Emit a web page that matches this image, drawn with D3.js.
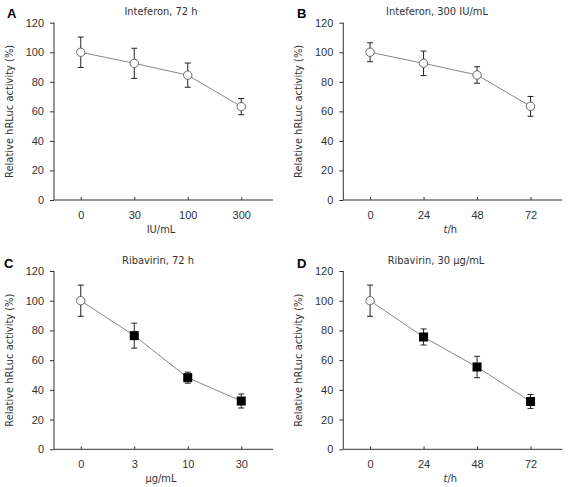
<!DOCTYPE html>
<html><head><meta charset="utf-8">
<script src="https://cdn.jsdelivr.net/npm/d3@7"></script>
<style>
body{margin:0;background:#fff;}
svg{display:block;font-family:"DejaVu Sans Condensed","DejaVu Sans",sans-serif;font-stretch:condensed;}
</style></head><body>
<svg id="chart" width="568" height="487"></svg>
<script>
// ---- data ----
const yTicks = [0, 20, 40, 60, 80, 100, 120];

const catsA = ["0", "30", "100", "300"];
const valsA = [100, 92.5, 84.5, 63.2];
const errA  = [10.3, 10.2, 8.2, 5.5];
const markA = ["circle", "circle", "circle", "circle"];

const catsB = ["0", "24", "48", "72"];
const valsB = [100, 92.5, 84.6, 63.4];
const errB  = [6.4, 8.3, 5.6, 6.7];
const markB = ["circle", "circle", "circle", "circle"];

const catsC = ["0", "3", "10", "30"];
const valsC = [100, 76.5, 48.2, 32.5];
const errC  = [10.5, 8.4, 3.7, 4.7];
const markC = ["circle", "square", "square", "square"];

const catsD = ["0", "24", "48", "72"];
const valsD = [100, 75.6, 55.4, 32.2];
const errD  = [10.5, 5.4, 7.2, 4.7];
const markD = ["circle", "square", "square", "square"];

const titles  = ["Inteferon, 72 h", "Inteferon, 300 IU/mL", "Ribavirin, 72 h", "Ribavirin, 30 \u03bcg/mL"];
const letters = ["A", "B", "C", "D"];
const xLabels = ["IU/mL", "t/h", "\u03bcg/mL", "t/h"];
const yLabel  = "Relative hRLuc activity (%)";

// ---- layout ----
const layouts = [
  {x0: 54,    y0: 200,   y1: 22.7, letterX: 7,   letterY: 18,  titleX: 161},
  {x0: 343.3, y0: 200,   y1: 22.7, letterX: 297, letterY: 18,  titleX: 437},
  {x0: 54,    y0: 449.3, y1: 271,  letterX: 4,   letterY: 268, titleX: 158},
  {x0: 343.3, y0: 449.3, y1: 271,  letterX: 297, letterY: 268, titleX: 436}
];
const panels = [
  {cats: catsA, vals: valsA, errs: errA, marks: markA},
  {cats: catsB, vals: valsB, errs: errB, marks: markB},
  {cats: catsC, vals: valsC, errs: errC, marks: markC},
  {cats: catsD, vals: valsD, errs: errD, marks: markD}
];

const svg = d3.select("#chart");
const axisColor = "#333";
const textColor = "#333";

panels.forEach((p, i) => {
  const L = layouts[i];
  const g = svg.append("g");
  const y = d3.scaleLinear().domain([0, 120]).range([L.y0, L.y1]);
  const x = d3.scalePoint().domain(p.cats).range([L.x0, L.x0 + 214]).padding(0.5);
  const axisEnd = L.x0 + 219;

  // y axis
  const ya = g.append("g").attr("transform", `translate(${L.x0},0)`)
    .call(d3.axisLeft(y).tickValues(yTicks).tickSize(4).tickPadding(6));
  ya.select(".domain").remove();
  ya.selectAll("line").attr("stroke", axisColor);
  ya.selectAll("text").attr("fill", textColor).style("font-size", "11px").style("font-family", "inherit");
  g.append("line").attr("x1", L.x0).attr("x2", L.x0).attr("y1", y(0)).attr("y2", y(120))
    .attr("stroke", axisColor).attr("stroke-width", 1);

  // x axis
  const xa = g.append("g").attr("transform", `translate(0,${L.y0})`)
    .call(d3.axisBottom(x).tickSizeInner(-3).tickSizeOuter(0).tickPadding(11));
  xa.select(".domain").remove();
  xa.selectAll("line").attr("stroke", axisColor);
  xa.selectAll("text").attr("fill", textColor).style("font-size", "11px").style("font-family", "inherit");
  g.append("line").attr("x1", L.x0).attr("x2", axisEnd).attr("y1", L.y0).attr("y2", L.y0)
    .attr("stroke", axisColor).attr("stroke-width", 1);

  // y label
  g.append("text")
    .attr("transform", `translate(${L.x0 - 41},${(y(0) + y(120)) / 2}) rotate(-90)`)
    .attr("text-anchor", "middle").attr("fill", textColor).style("font-size", "11px")
    .text(yLabel);

  // x label
  const xl = g.append("text")
    .attr("x", (x(p.cats[0]) + x(p.cats[3])) / 2).attr("y", L.y0 + 33)
    .attr("text-anchor", "middle").attr("fill", textColor).style("font-size", "11px");
  if (xLabels[i] === "t/h") {
    xl.append("tspan").attr("font-style", "italic").text("t");
    xl.append("tspan").text("/h");
  } else {
    xl.text(xLabels[i]);
  }

  // title
  g.append("text").attr("x", L.titleX).attr("y", L.y1 - 7.5)
    .attr("text-anchor", "middle").attr("fill", textColor).style("font-size", "11px")
    .text(titles[i]);

  // letter
  g.append("text").attr("x", L.letterX).attr("y", L.letterY)
    .attr("fill", "#000").style("font-size", "13px").style("font-weight", "bold")
    .style("font-family", "'Liberation Sans', Arial, sans-serif").style("font-stretch", "normal")
    .text(letters[i]);

  const pts = p.cats.map((c, k) => ({c, v: p.vals[k], e: p.errs[k], m: p.marks[k]}));

  // line
  g.append("path").datum(pts)
    .attr("d", d3.line().x(d => x(d.c)).y(d => y(d.v)))
    .attr("fill", "none").attr("stroke", "#888").attr("stroke-width", 1);

  // error bars
  const eb = g.selectAll(".eb").data(pts).enter().append("g");
  eb.append("line").attr("x1", d => x(d.c)).attr("x2", d => x(d.c))
    .attr("y1", d => y(d.v + d.e)).attr("y2", d => y(d.v - d.e))
    .attr("stroke", "#222").attr("stroke-width", 1);
  [1, -1].forEach(s => {
    eb.append("line").attr("x1", d => x(d.c) - 3).attr("x2", d => x(d.c) + 3)
      .attr("y1", d => y(d.v + s * d.e)).attr("y2", d => y(d.v + s * d.e))
      .attr("stroke", "#222").attr("stroke-width", 1);
  });

  // markers
  g.selectAll(".mc").data(pts.filter(d => d.m === "circle")).enter().append("circle")
    .attr("cx", d => x(d.c)).attr("cy", d => y(d.v)).attr("r", 4.2)
    .attr("fill", "#fff").attr("stroke", "#666").attr("stroke-width", 1);
  g.selectAll(".ms").data(pts.filter(d => d.m === "square")).enter().append("rect")
    .attr("x", d => x(d.c) - 4.5).attr("y", d => y(d.v) - 4.5).attr("width", 9).attr("height", 9)
    .attr("fill", "#000");
});
</script>
</body></html>
